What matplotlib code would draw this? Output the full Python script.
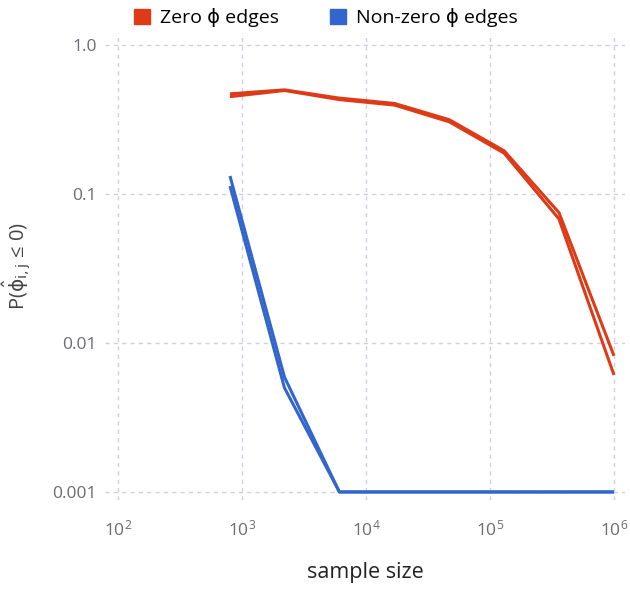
import numpy as np
import matplotlib.pyplot as plt
from matplotlib.patches import Patch
from matplotlib.ticker import FixedLocator, NullLocator

plt.rcParams['font.family'] = ['Open Sans', 'DejaVu Sans']
plt.rcParams['mathtext.fontset'] = 'custom'
plt.rcParams['mathtext.rm'] = 'Open Sans'
plt.rcParams['mathtext.it'] = 'Open Sans'

# tamanhos de amostra
sample_size = [800, 2200, 6100, 17000, 47000, 130000, 360000, 1000000]

# duas execuções para cada tipo de aresta
zero_run1 = [0.47, 0.50, 0.44, 0.405, 0.315, 0.195, 0.075, 0.0082]
zero_run2 = [0.45, 0.495, 0.43, 0.395, 0.305, 0.188, 0.068, 0.0061]
nonzero_run1 = [0.132, 0.0059, 0.001, 0.001, 0.001, 0.001, 0.001, 0.001]
nonzero_run2 = [0.113, 0.0050, 0.001, 0.001, 0.001, 0.001, 0.001, 0.001]

x_ticks = [1e2, 1e3, 1e4, 1e5, 1e6]
x_labels = [r'$10^{2}$', r'$10^{3}$', r'$10^{4}$', r'$10^{5}$', r'$10^{6}$']
y_ticks = [0.001, 0.01, 0.1, 1.0]
y_labels = ['0.001', '0.01', '0.1', '1.0']

red = '#dd3b17'
blue = '#3366cc'
grid_col = '#cfd0e2'
tick_col = '#6e6a72'

fig = plt.figure(figsize=(6.3, 5.9), dpi=100)
ax = fig.add_axes([105 / 630, 90 / 590, 520 / 630, 467 / 590])

for ys in (zero_run1, zero_run2):
    ax.plot(sample_size, ys, color=red, lw=2.2, solid_capstyle='butt')
for ys in (nonzero_run1, nonzero_run2):
    ax.plot(sample_size, ys, color=blue, lw=2.2, solid_capstyle='butt')

ax.set_xscale('log')
ax.set_yscale('log')
ax.set_xlim(10 ** 1.895, 10 ** 6.089)
ax.set_ylim(10 ** -3.054, 10 ** 0.0805)

ax.xaxis.set_major_locator(FixedLocator(x_ticks))
ax.xaxis.set_minor_locator(NullLocator())
ax.set_xticklabels(x_labels)
ax.yaxis.set_major_locator(FixedLocator(y_ticks))
ax.yaxis.set_minor_locator(NullLocator())
ax.set_yticklabels(y_labels)

ax.grid(True, color=grid_col, linestyle=(0, (3, 3)), lw=1)
ax.set_axisbelow(True)
for s in ax.spines.values():
    s.set_visible(False)
ax.tick_params(axis='both', labelcolor=tick_col, labelsize=12.5, length=0)
ax.tick_params(axis='y', pad=6)
ax.tick_params(axis='x', pad=14)

ax.set_xlabel('sample size', fontsize=15.5, color='#222222', labelpad=16)
ax.set_ylabel(r'P($\hat{\mathrm{ϕ}}_{\mathrm{i,j}}$ ≤ 0)', fontsize=14.5, color='#444444',
              labelpad=14, math_fontfamily='dejavusans')

handles = [Patch(color=red, label='Zero ϕ edges'), Patch(color=blue, label='Non-zero ϕ edges')]
fig.legend(handles=handles, loc='center', bbox_to_anchor=(0.517, 0.97), ncol=2,
           frameon=False, fontsize=14, handlelength=0.85, handleheight=0.85,
           handletextpad=0.5, columnspacing=2.6)

fig.savefig('out.png', dpi=100)
